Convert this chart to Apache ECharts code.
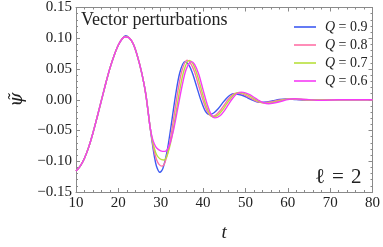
<!DOCTYPE html>
<html><head><meta charset="utf-8">
<script src="https://cdn.jsdelivr.net/npm/echarts@6/dist/echarts.min.js"></script>
<style>html,body{margin:0;padding:0;background:#fff}#c{width:383px;height:247px}</style>
</head><body><div id="c"></div>
<script>
// common early part (all curves coincide)
var tPre = [10,11,12,13,14,15,16,17,18,19,20,21];
var yPre = [-0.116,-0.108,-0.095,-0.077,-0.054,-0.028,-0.001,0.026,0.051,0.072,0.089,0.100];
var tPeak = 21.7;
var yPeak = [0.104, 0.103, 0.1025, 0.102];
var tMid = [22.5,23.5,24.5,25.5,26.5,27.5];
var yMid = [0.101,0.091,0.071,0.044,0.008,-0.045];

var names = ['Q = 0.9','Q = 0.8','Q = 0.7','Q = 0.6'];
var colors = ['#3d5af1','#ff70a6','#b8e03c','#f53df5'];

var tQ09 = [28,28.5,29,29.8,30.5,31.5,32.5,33.5,34.5,35.7,36.7,37.5,38.5,39.5,40.5,41.5,42.5,43.5,44.5,45.5,46.5,47.3,48.5,49.5,50.5,51.5,52.5,53.6,55,56.5,58,59.5,62,65,70,80];
var yQ09 = [-0.070,-0.092,-0.108,-0.118,-0.112,-0.084,-0.040,0.007,0.044,0.062,0.056,0.043,0.021,-0.001,-0.018,-0.024,-0.0216,-0.0151,-0.0063,0.0022,0.0081,0.0097,0.0085,0.0065,0.0032,-0.0002,-0.0029,-0.0043,-0.0037,-0.0017,0.0003,0.0012,0.0003,-0.0005,0,0];

var tQ08 = [28,28.5,29,29.6,30.3,31,32,33,34,35,36.2,37,38,39,40,41,42.1,43,44,45,46,47,48,49,50,51,52,53,54.3,56,57.5,59,60.3,63,66,70,80];
var yQ08 = [-0.067,-0.085,-0.097,-0.105,-0.108,-0.102,-0.075,-0.033,0.012,0.047,0.0645,0.060,0.045,0.022,-0.001,-0.019,-0.027,-0.025,-0.018,-0.0085,0.0012,0.0084,0.011,0.010,0.0073,0.0036,-0.0003,-0.0034,-0.005,-0.0035,-0.0012,0.0006,0.0014,0.0003,-0.0005,0,0];

var tQ07 = [28,28.5,29,29.8,30.7,31.5,32.5,33.5,34.5,35.5,36.7,37.5,38.5,39.5,40.5,41.5,42.4,43.5,44.5,45.5,46.5,47.5,48.5,49.5,50.5,51.5,52.5,53.5,55,56.5,58,59.5,61,64,67,71,80];
var yQ07 = [-0.065,-0.079,-0.089,-0.096,-0.098,-0.091,-0.065,-0.026,0.016,0.048,0.064,0.060,0.043,0.019,-0.005,-0.022,-0.028,-0.025,-0.0175,-0.0076,0.0021,0.0092,0.0118,0.0108,0.008,0.0041,-0.0001,-0.0036,-0.0058,-0.0044,-0.0018,0.0006,0.0015,0.0003,-0.0006,0,0];

var tQ06 = [28,28.5,29,30,31,32,33,34,35,36,37.2,38,39,40,41,42,42.8,44,45,46,47,48,49,50,51,52,53,54,55.5,57,58.5,60,61.5,64.5,68,72,80];
var yQ06 = [-0.062,-0.072,-0.078,-0.083,-0.084,-0.075,-0.050,-0.015,0.021,0.049,0.062,0.0575,0.041,0.016,-0.008,-0.025,-0.0295,-0.026,-0.018,-0.0075,0.0025,0.0098,0.0124,0.0113,0.0083,0.0041,-0.0004,-0.0041,-0.0065,-0.0048,-0.0024,0.0004,0.0016,0.0003,-0.001,0,0];

var xTicks = [10,20,30,40,50,60,70,80];
var yTicks = [-0.15,-0.10,-0.05,0.00,0.05,0.10,0.15];

var tails = [[tQ09,yQ09],[tQ08,yQ08],[tQ07,yQ07],[tQ06,yQ06]];

function build(i){
  var d = [];
  for (var k=0;k<tPre.length;k++) d.push([tPre[k], yPre[k]]);
  d.push([tPeak, yPeak[i]]);
  for (var k=0;k<tMid.length;k++) d.push([tMid[k], yMid[k]]);
  var tt = tails[i][0], yy = tails[i][1];
  for (var k=0;k<tt.length;k++) d.push([tt[k], yy[k]]);
  return d;
}

var serif = "'Liberation Serif','DejaVu Serif',serif";
var axisCol = '#8a8a8a';
function xAx(pos, labels){
  return {type:'value', position:pos, min:10, max:80, interval:10,
    axisLine:{show:true, onZero:false, lineStyle:{color:axisCol, width:1}},
    axisTick:{show:true, inside:true, length:4, lineStyle:{color:axisCol}},
    minorTick:{show:true, splitNumber:5, length:2, lineStyle:{color:axisCol}},
    splitLine:{show:false},
    axisLabel:{show:labels, color:'#222', fontFamily:serif, fontSize:15, margin:4},
    name: labels ? 't' : '', nameLocation:'middle', nameGap:31,
    nameTextStyle:{fontFamily:serif, fontStyle:'italic', fontSize:19, color:'#222'}
  };
}
function yAx(pos, labels){
  return {type:'value', position:pos, min:-0.15, max:0.15, interval:0.05,
    axisLine:{show:true, onZero:false, lineStyle:{color:axisCol, width:1}},
    axisTick:{show:true, inside:true, length:4, lineStyle:{color:axisCol}},
    minorTick:{show:true, splitNumber:5, length:2, lineStyle:{color:axisCol}},
    splitLine:{show:false},
    axisLabel:{show:labels, color:'#222', fontFamily:serif, fontSize:15, margin:4,
      formatter:function(v){ var s=Math.abs(v).toFixed(2); return (v< -1e-9?'\u2212':'')+s; }},
    name: labels ? '\u03C8\u0303' : '', nameLocation:'middle', nameGap:50, nameRotate:90,
    nameTextStyle:{fontFamily:"'DejaVu Serif',serif", fontStyle:'italic', fontSize:18, color:'#222'}
  };
}

var series = names.map(function(n,i){
  return {name:n, type:'line', xAxisIndex:0, yAxisIndex:0, data:build(i), smooth:0.3,
    symbol:'none', lineStyle:{color:colors[i], width:1.4}, itemStyle:{color:colors[i]},
    animation:false, z: 2+i};
});

var chart = echarts.init(document.getElementById('c'), null, {renderer:'canvas'});
chart.setOption({
  animation:false,
  backgroundColor:'#fff',
  grid:{left:75, right:8, top:6, bottom:55, containLabel:false},
  xAxis:[xAx('bottom', true), xAx('top', false)],
  yAxis:[yAx('left', true), yAx('right', false)],
  legend:{orient:'vertical', left:289, top:15, itemWidth:22, itemHeight:12, itemGap:4,
    icon:'path://M0,0 L22,0 L22,1.6 L0,1.6 Z',
    textStyle:{fontFamily:serif, fontSize:14, color:'#222', padding:[0,0,0,4],
      rich:{q:{fontFamily:serif, fontStyle:'italic', fontSize:14, color:'#222'},
            n:{fontFamily:serif, fontSize:14, color:'#222'}}},
    formatter:function(n){ return '{q|Q}{n|' + n.slice(1) + '}'; },
    data:names},
  graphic:[
    {type:'text', left:81, top:11, style:{text:'Vector perturbations', font:"18px 'Liberation Serif', serif", fill:'#222'}},
    {type:'text', left:315, top:167, style:{text:'\u2113\u2004=\u20042', font:"21px 'Liberation Serif','DejaVu Serif', serif", fill:'#222'}}
  ],
  series:series
});
</script></body></html>
